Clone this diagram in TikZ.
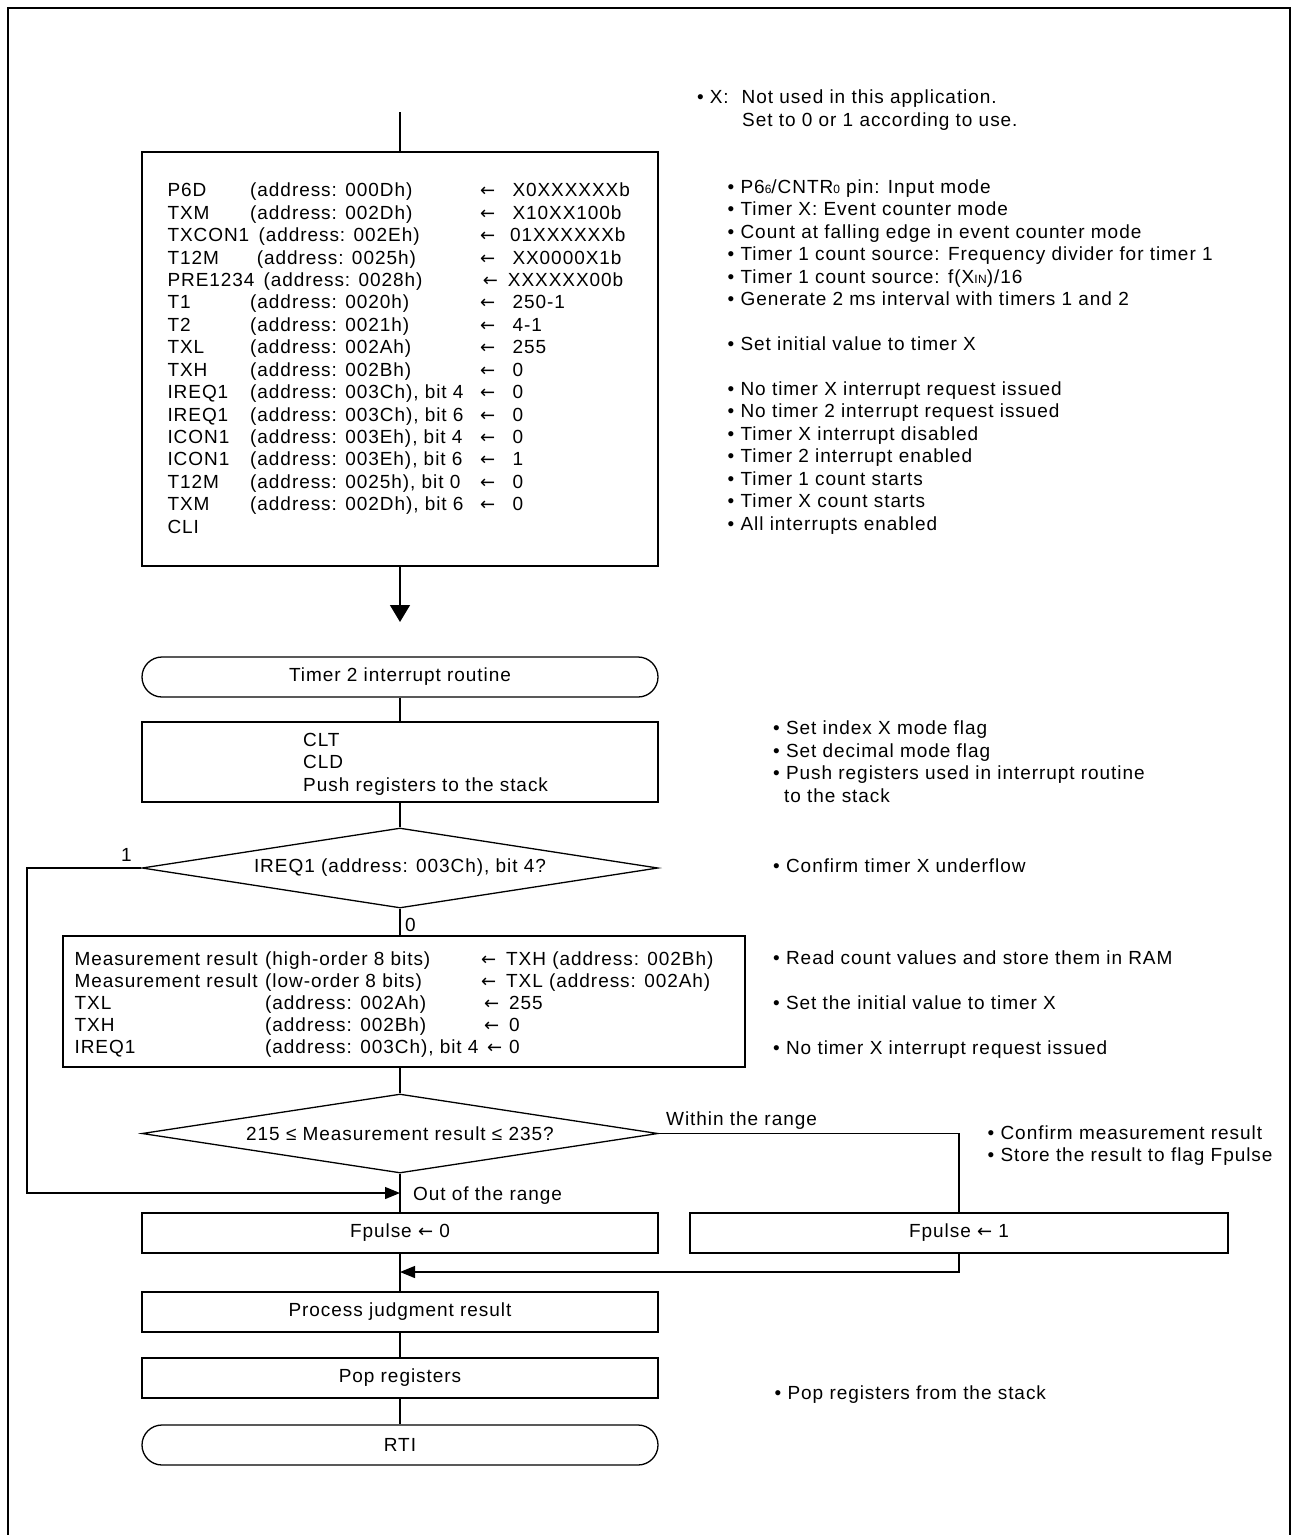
\documentclass[tikz,border=0pt]{standalone}
\usepackage{fontspec}
\setmainfont{Liberation Sans}[LetterSpace=5]
\newfontfamily\dvsans{DejaVu Sans}
\usetikzlibrary{shapes.geometric,arrows.meta}
\newcommand\smallsub[1]{{\fontsize{12}{12}\selectfont #1}}
\newcommand\la{{\dvsans\fontsize{18}{18}\selectfont ←}}
\begin{document}
\begin{tikzpicture}[x=1pt,y=-1pt,
  every node/.style={font=\fontsize{19}{22}\selectfont},
  ln/.style={line width=1.3pt},
  pbox/.style={draw,line width=1.3pt,rectangle,inner sep=0pt,minimum width=516pt,minimum height=40pt},
  term/.style={pbox,rounded corners=20pt},
  dec/.style={draw,line width=1.3pt,diamond,shape aspect=6.45,inner sep=0pt,minimum width=516pt,minimum height=80pt},
  txt/.style={anchor=base west,inner sep=0pt},
  arr/.style={ln,-{Triangle[length=15pt,width=12pt]}},
  bigarr/.style={ln,-{Triangle[length=17pt,width=20pt]}}]
\useasboundingbox (0,0) rectangle (1292,1535);
% outer frame (open at the bottom)
\draw[line width=2pt] (7.5,1535) -- (7.5,7.5) -- (1290,7.5) -- (1290,1535);

% ---------- flow nodes ----------
\coordinate (top) at (400,112);
\node[pbox,minimum height=414pt] (init) at (400,359) {};
\coordinate (ae) at (400,622);
\node[term] (t1) at (400,677) {Timer 2 interrupt routine};
\node[pbox,minimum height=80pt] (b2) at (400,762) {};
\node[dec] (d1) at (400,868) {IREQ1 (address: 003Ch), bit 4?};
\node[pbox,minimum width=682pt,minimum height=131pt] (b3) at (404,1001.5) {};
\node[dec,minimum height=79pt] (d2) at (400,1133.5) {215 ≤ Measurement result ≤ 235?};
\node[pbox] (f0) at (400,1233) {Fpulse \la\ 0};
\node[pbox,minimum width=538pt] (f1) at (959,1233) {Fpulse \la\ 1};
\coordinate (mg) at (400,1272);
\node[pbox] (pj) at (400,1312) {Process judgment result};
\node[pbox] (pr) at (400,1378) {Pop registers};
\node[term] (rti) at (400,1445) {RTI};
\coordinate (lc) at (27,1193);

% ---------- connectors ----------
\draw[ln] (top) -- (init.north);
\draw[bigarr] (init.south) -- (ae);
\draw[ln] (t1.south) -- (b2.north);
\draw[ln] (b2.south) -- (d1.north);
\draw[ln] (d1.south) -- (d1.south |- b3.north);
\draw[ln] (d2.north |- b3.south) -- (d2.north);
\draw[arr] (d1.west) -| (lc) -- (d2.south |- lc);
\draw[ln] (d2.south) -- (f0.north);
\draw[ln] (d2.east) -| (f1.north);
\draw[arr] (f1.south) |- (mg);
\draw[ln] (f0.south) -- (pj.north);
\draw[ln] (pj.south) -- (pr.north);
\draw[ln] (pr.south) -- (rti.north);

% ---------- connector labels ----------
\node[txt] (l1) at (121,861.8) {1};
\node[txt] (l0) at (405,931.8) {0};
\node[txt] (lw) at (666,1125.3) {Within the range};
\node[txt] (lo) at (413,1200) {Out of the range};

% ---------- init box contents ----------
\foreach \nm/\ax/\ad/\rx/\vx/\vl [count=\i from 0] in {
  P6D/250/{(address: 000Dh)}/480/512.3/X0XXXXXXb,
  TXM/250/{(address: 002Dh)}/480/512.3/X10XX100b,
  TXCON1/258.3/{(address: 002Eh)}/480/510/01XXXXXXb,
  T12M/256.7/{(address: 0025h)}/480/512.3/XX0000X1b,
  PRE1234/263.3/{(address: 0028h)}/482.7/507.7/XXXXXX00b,
  T1/250/{(address: 0020h)}/480/512.3/250-1,
  T2/250/{(address: 0021h)}/480/512.3/4-1,
  TXL/250/{(address: 002Ah)}/480/512.3/255,
  TXH/250/{(address: 002Bh)}/480/512.3/0,
  IREQ1/250/{(address: 003Ch), bit 4}/480/512.3/0,
  IREQ1/250/{(address: 003Ch), bit 6}/480/512.3/0,
  ICON1/250/{(address: 003Eh), bit 4}/480/512.3/0,
  ICON1/250/{(address: 003Eh), bit 6}/480/512.3/1,
  T12M/250/{(address: 0025h), bit 0}/480/512.3/0,
  TXM/250/{(address: 002Dh), bit 6}/480/512.3/0}{
  \node[txt] (rn\i) at (167.3,{196.8+22.43*\i}) {\nm};
  \node[txt] (ra\i) at (\ax,{196.8+22.43*\i}) {\ad};
  \node[txt] (rr\i) at (\rx,{196.8+22.43*\i}) {\la};
  \node[txt] (rv\i) at (\vx,{196.8+22.43*\i}) {\vl};
}
\node[txt] (rcli) at (167.3,533.3) {CLI};

% ---------- box 2 contents ----------
\node[txt] (c1) at (303,746.1) {CLT};
\node[txt] (c2) at (303,768.5) {CLD};
\node[txt] (c3) at (303,791.1) {Push registers to the stack};

% ---------- box 3 contents ----------
\node[txt] (m0a) at (74.4,965.1) {Measurement result};
\node[txt] (m0b) at (265,965.1) {(high-order 8 bits)};
\node[txt] (m0c) at (481,965.1) {\la};
\node[txt] (m0d) at (506,965.1) {TXH (address: 002Bh)};
\node[txt] (m1a) at (74.4,987.2) {Measurement result};
\node[txt] (m1b) at (265,987.2) {(low-order 8 bits)};
\node[txt] (m1c) at (481,987.2) {\la};
\node[txt] (m1d) at (506,987.2) {TXL (address: 002Ah)};
\node[txt] (m2a) at (74.4,1009.3) {TXL};
\node[txt] (m2b) at (265,1009.3) {(address: 002Ah)};
\node[txt] (m2c) at (484,1009.3) {\la};
\node[txt] (m2d) at (509,1009.3) {255};
\node[txt] (m3a) at (74.4,1031.4) {TXH};
\node[txt] (m3b) at (265,1031.4) {(address: 002Bh)};
\node[txt] (m3c) at (484,1031.4) {\la};
\node[txt] (m3d) at (509,1031.4) {0};
\node[txt] (m4a) at (74.4,1053.5) {IREQ1};
\node[txt] (m4b) at (265,1053.5) {(address: 003Ch), bit 4};
\node[txt] (m4c) at (487,1053.5) {\la};
\node[txt] (m4d) at (509,1053.5) {0};

% ---------- notes ----------
\node[txt] (nx0) at (696.8,103.5) {• X:};
\node[txt] (nx1) at (741.4,103.5) {Not used in this application.};
\node[txt] (nx2) at (742,126.8) {Set to 0 or 1 according to use.};

\node[txt] (n0) at (727.5,193.5) {• P6\smallsub{6}/CNTR\smallsub{0} pin: Input mode};
\node[txt] (n1) at (727.5,215.9) {• Timer X: Event counter mode};
\node[txt] (n2) at (727.5,238.4) {• Count at falling edge in event counter mode};
\node[txt] (n3) at (727.5,260.8) {• Timer 1 count source: Frequency divider for timer 1};
\node[txt] (n4) at (727.5,283.2) {• Timer 1 count source: f(X\smallsub{IN})/16};
\node[txt] (n5) at (727.5,305.7) {• Generate 2 ms interval with timers 1 and 2};
\node[txt] (n7) at (727.5,350.5) {• Set initial value to timer X};
\node[txt] (n9) at (727.5,395.4) {• No timer X interrupt request issued};
\node[txt] (n10) at (727.5,417.8) {• No timer 2 interrupt request issued};
\node[txt] (n11) at (727.5,440.2) {• Timer X interrupt disabled};
\node[txt] (n12) at (727.5,462.7) {• Timer 2 interrupt enabled};
\node[txt] (n13) at (727.5,485.1) {• Timer 1 count starts};
\node[txt] (n14) at (727.5,507.5) {• Timer X count starts};
\node[txt] (n15) at (727.5,530.0) {• All interrupts enabled};

\node[txt] (p0) at (773,734.1) {• Set index X mode flag};
\node[txt] (p1) at (773,757.5) {• Set decimal mode flag};
\node[txt] (p2) at (773,779.1) {• Push registers used in interrupt routine};
\node[txt] (p3) at (784,802.5) {to the stack};
\node[txt] (q0) at (773,872.8) {• Confirm timer X underflow};

\node[txt] (s0) at (773,964.1) {• Read count values and store them in RAM};
\node[txt] (s1) at (773,1009.5) {• Set the initial value to timer X};
\node[txt] (s2) at (773,1054.5) {• No timer X interrupt request issued};

\node[txt] (u0) at (987.5,1139.1) {• Confirm measurement result};
\node[txt] (u1) at (987.5,1161.8) {• Store the result to flag Fpulse};

\node[txt] (v0) at (774.5,1399) {• Pop registers from the stack};
\end{tikzpicture}
\end{document}
